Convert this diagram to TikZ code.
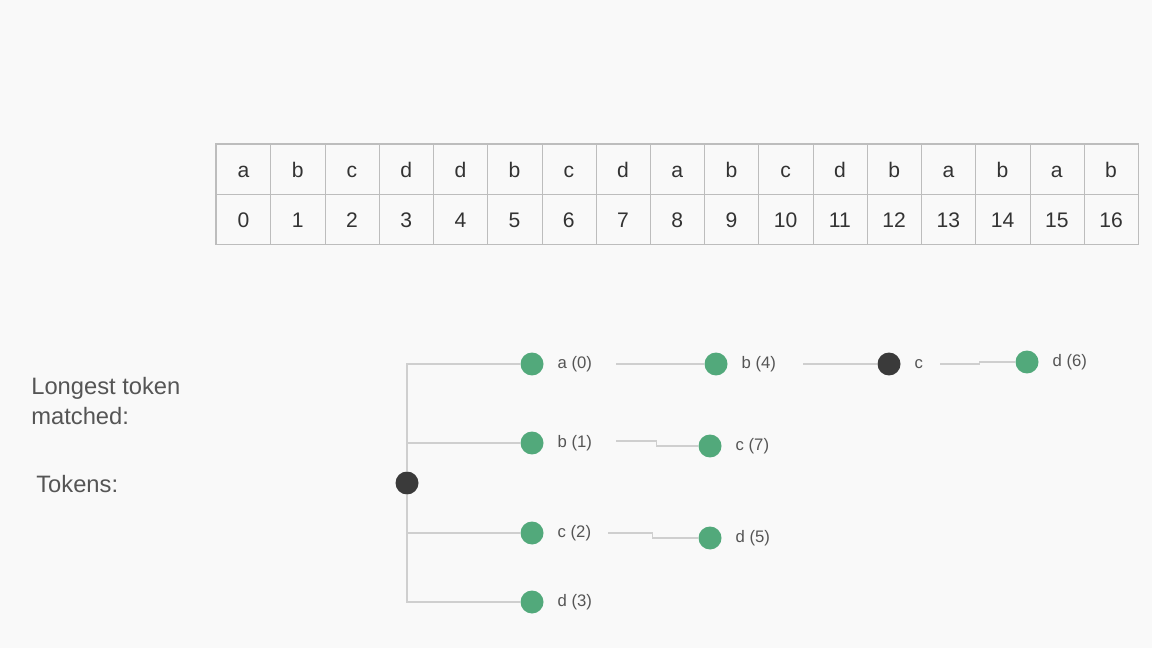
\documentclass[tikz,border=0pt]{standalone}
\usepackage{fontspec}
\setmainfont{Liberation Sans}
\usetikzlibrary{matrix,positioning}
\definecolor{pagebg}{HTML}{F9F9F9}
\definecolor{gridgray}{HTML}{BDBDBD}
\definecolor{leafgreen}{HTML}{52A97B}
\definecolor{rootgray}{HTML}{3A3A3A}
\definecolor{linkgray}{HTML}{CFCFCF}
\definecolor{labelgray}{HTML}{555555}
\tikzset{trie/.style={circle,fill=leafgreen,minimum size=0.46cm,inner sep=0pt},
trieroot/.style={trie,fill=rootgray},
triename/.style={font=\fontsize{9.5}{11}\selectfont,text=labelgray,inner sep=0pt},
sidenote/.style={font=\fontsize{13.5}{17}\selectfont,text=labelgray,inner sep=0pt,anchor=west,align=left},
link/.style={draw=linkgray,line width=0.8pt},
gridline/.style={draw=gridgray,line width=0.6pt}}

\begin{document}
\begin{tikzpicture}[x=0.02cm,y=-0.02cm]
  \fill[pagebg] (0,0) rectangle (1152,648);
  \useasboundingbox (0,0) rectangle (1152,648);
  \matrix (m) [matrix of nodes, anchor=north west, inner sep=0pt,
    column sep=0pt, row sep=0pt,
    nodes={minimum width=1.0847cm,
      minimum height=1cm, inner sep=0pt, text height=9pt, text depth=0pt,
      font=\fontsize{12}{14}\selectfont, text=black!80}]
    at (216,144)
    { a & b & c & d & d & b & c & d & a & b & c  & d  & b  & a  & b  & a  & b  \\
      0 & 1 & 2 & 3 & 4 & 5 & 6 & 7 & 8 & 9 & 10 & 11 & 12 & 13 & 14 & 15 & 16 \\ };
  % table rules
  \draw[gridline] (m.north west) rectangle (m.south east);
  \draw[gridline] (m-1-1.south west) -- (m-1-17.south east);
  \foreach \c in {1,...,16}
    \draw[gridline] (m-1-\c.north east) -- (m-2-\c.south east);
  \node[sidenote] (longest) at (31,401) {Longest token\\matched:};
  \node[sidenote] (tokens) at (36,484) {Tokens:};
  \node[trieroot] (root) at (407,483) {};
  \node[trie] (a0) at (532,364) {};
  \node[trie] (b1) at (532,443) {};
  \node[trie] (c2) at (532,533) {};
  \node[trie] (d3) at (532,602) {};
  \node[trie] (b4) at (716,364) {};
  \node[trie] (c7) at (710,446) {};
  \node[trie] (d5) at (710,538) {};
  \node[trieroot] (cx) at (889,364) {};
  \node[trie] (d6) at (1027,362) {};
  \node[triename, right=0.27cm of a0] (a0t) {a (0)};
  \node[triename, right=0.27cm of b1] (b1t) {b (1)};
  \node[triename, right=0.27cm of c2] (c2t) {c (2)};
  \node[triename, right=0.27cm of d3] (d3t) {d (3)};
  \node[triename, right=0.27cm of b4] (b4t) {b (4)};
  \node[triename, right=0.27cm of c7] (c7t) {c (7)};
  \node[triename, right=0.27cm of d5] (d5t) {d (5)};
  \node[triename, right=0.27cm of cx] (cxt) {c};
  \node[triename, right=0.27cm of d6] (d6t) {d (6)};
  % root branches
  \foreach \kid in {a0,b1,c2,d3}
    \draw[link] (root) |- (\kid);
  % deeper links
  \draw[link] (a0t.east) ++(24,0) -- (b4);
  \draw[link] (b1t.east) ++(24,-2) -- ++(40,0) |- (c7);
  \draw[link] (c2t.east) ++(17,0) -- ++(44,0) |- (d5);
  \draw[link] (b4t.east) ++(27,0) -- (cx);
  \draw[link] (cxt.east) ++(17,0) -- ++(39,0) |- (d6);
\end{tikzpicture}
\end{document}
